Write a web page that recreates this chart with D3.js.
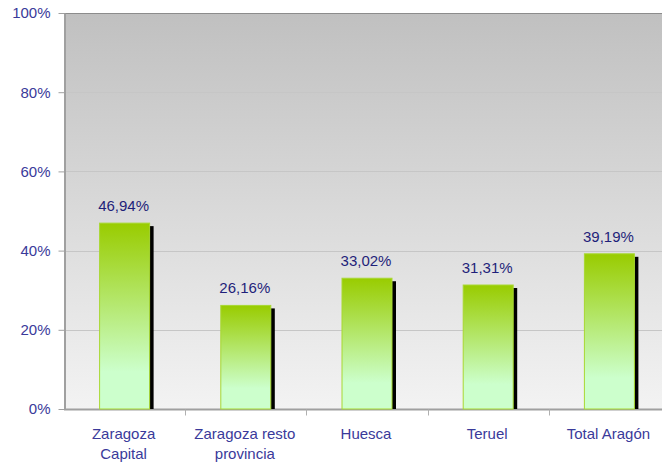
<!DOCTYPE html>
<html>
<head>
<meta charset="utf-8">
<script src="https://cdn.jsdelivr.net/npm/d3@7"></script>
<style>
  body { margin: 0; background: #fff; }
  text { font-family: "Liberation Sans", Arial, sans-serif; }
</style>
</head>
<body>
<div id="chart"></div>
<script>
var categories = [['Zaragoza', 'Capital'], ['Zaragoza resto', 'provincia'], ['Huesca'], ['Teruel'], ['Total Aragón']];
var values = [46.94, 26.16, 33.02, 31.31, 39.19];
var yTicks = [0, 20, 40, 60, 80, 100];

var width = 662, height = 464,
    margin = { top: 13, right: -8, bottom: 55, left: 64 };

var svg = d3.select('#chart')
  .append('svg')
  .attr('width', width)
  .attr('height', height);

var defs = svg.append('defs');

var bg = defs.append('linearGradient')
  .attr('id', 'bg')
  .attr('x1', 0).attr('y1', 0).attr('x2', 0).attr('y2', 1);
bg.append('stop').attr('offset', '0%').attr('stop-color', '#c0c0c0');
bg.append('stop').attr('offset', '100%').attr('stop-color', '#f3f3f3');

var barGrad = defs.append('linearGradient')
  .attr('id', 'bar')
  .attr('x1', 0).attr('y1', 0).attr('x2', 0).attr('y2', 1);
barGrad.append('stop').attr('offset', '0%').attr('stop-color', '#99cc00');
barGrad.append('stop').attr('offset', '80%').attr('stop-color', '#ccffcc');
barGrad.append('stop').attr('offset', '100%').attr('stop-color', '#ccffcc');

var x0 = margin.left, x1 = width - margin.right,
    y0 = height - margin.bottom, y1 = margin.top;

var x = d3.scaleBand()
  .domain(d3.range(categories.length))
  .range([x0, x1])
  .paddingInner(0)
  .paddingOuter(0);

var y = d3.scaleLinear()
  .domain([0, 100])
  .range([y0, y1]);

// plot background
svg.append('rect')
  .attr('x', x0).attr('y', y1)
  .attr('width', x1 - x0).attr('height', y0 - y1)
  .attr('fill', 'url(#bg)');

// gridlines
svg.append('g')
  .selectAll('line')
  .data(yTicks.filter(function(d) { return d > 0 && d < 100; }))
  .enter().append('line')
  .attr('x1', x0).attr('x2', x1)
  .attr('y1', function(d) { return Math.round(y(d)) + 0.5; })
  .attr('y2', function(d) { return Math.round(y(d)) + 0.5; })
  .attr('stroke', '#c6c6c6');

// top border
svg.append('line')
  .attr('x1', x0).attr('x2', x1)
  .attr('y1', y1 + 0.5).attr('y2', y1 + 0.5)
  .attr('stroke', '#8c8c8c');

// y axis
var yAxis = svg.append('g')
  .attr('transform', 'translate(' + (x0 + 0.5) + ',0)')
  .call(d3.axisLeft(y).tickValues(yTicks).tickSize(6).tickSizeOuter(0)
    .tickFormat(function(d) { return d + '%'; }));
yAxis.select('.domain').attr('stroke', '#a0a0a0').attr('stroke-width', 2);
yAxis.selectAll('.tick line').attr('stroke', '#a0a0a0');
yAxis.selectAll('.tick text')
  .attr('x', -14)
  .attr('fill', '#3a3a9a')
  .style('font-size', '15px');

// x axis
var xAxis = svg.append('g')
  .attr('transform', 'translate(0,' + (y0 + 0.5) + ')');
xAxis.append('line')
  .attr('x1', x0).attr('x2', x1)
  .attr('stroke', '#a0a0a0').attr('stroke-width', 2);
xAxis.selectAll('line.tk')
  .data(d3.range(1, categories.length))
  .enter().append('line')
  .attr('class', 'tk')
  .attr('x1', function(d) { return Math.round(x(d)) + 0.5; })
  .attr('x2', function(d) { return Math.round(x(d)) + 0.5; })
  .attr('y1', 0).attr('y2', 6)
  .attr('stroke', '#b0b0b0');

var labels = xAxis.selectAll('text')
  .data(categories)
  .enter().append('text')
  .attr('text-anchor', 'middle')
  .attr('fill', '#3a3a9a')
  .style('font-size', '15px')
  .attr('transform', function(d, i) { return 'translate(' + (x(i) + x.bandwidth() / 2 - 1) + ',29)'; });
labels.selectAll('tspan')
  .data(function(d) { return d; })
  .enter().append('tspan')
  .attr('x', 0)
  .attr('dy', function(d, i) { return i === 0 ? 0 : 20; })
  .text(function(d) { return d; });

// bars
var barW = 50;
var bars = svg.append('g');

bars.selectAll('rect.shadow')
  .data(values)
  .enter().append('rect')
  .attr('class', 'shadow')
  .attr('x', function(d, i) { return x(i) + x.bandwidth() / 2 - barW / 2 + 4; })
  .attr('y', function(d) { return y(d) + 3; })
  .attr('width', barW)
  .attr('height', function(d) { return y0 - y(d) - 3; })
  .attr('fill', '#000');

bars.selectAll('rect.bar')
  .data(values)
  .enter().append('rect')
  .attr('class', 'bar')
  .attr('x', function(d, i) { return x(i) + x.bandwidth() / 2 - barW / 2; })
  .attr('y', function(d) { return y(d); })
  .attr('width', barW)
  .attr('height', function(d) { return y0 - y(d); })
  .attr('fill', 'url(#bar)')
  .attr('stroke', '#a8d832')
  .attr('stroke-width', 1);

bars.selectAll('text')
  .data(values)
  .enter().append('text')
  .attr('x', function(d, i) { return x(i) + x.bandwidth() / 2 - 1; })
  .attr('y', function(d) { return y(d) - 12; })
  .attr('text-anchor', 'middle')
  .attr('fill', '#1f1f7a')
  .style('font-size', '15px')
  .text(function(d) { return d.toFixed(2).replace('.', ',') + '%'; });
</script>
</body>
</html>
